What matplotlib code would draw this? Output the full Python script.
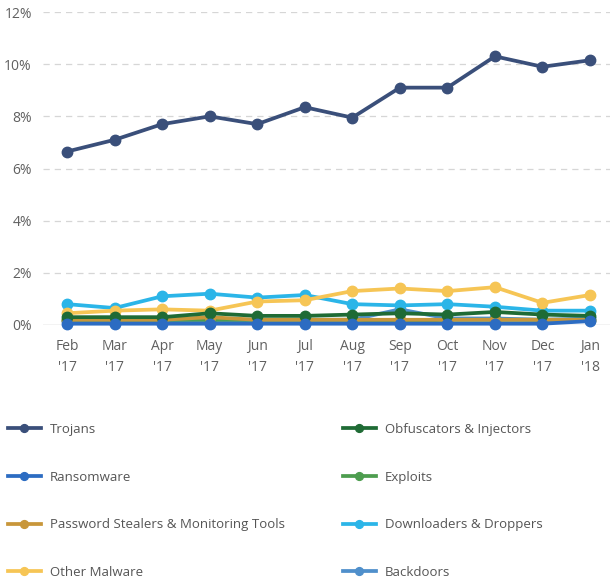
import numpy as np
import matplotlib.pyplot as plt

plt.rcParams['font.family'] = ['Open Sans', 'DejaVu Sans']

months = ["Feb\n'17", "Mar\n'17", "Apr\n'17", "May\n'17", "Jun\n'17", "Jul\n'17",
          "Aug\n'17", "Sep\n'17", "Oct\n'17", "Nov\n'17", "Dec\n'17", "Jan\n'18"]

# monthly share of detections, in percent
trojans = [6.65, 7.1, 7.7, 8.0, 7.7, 8.35, 7.95, 9.1, 9.1, 10.3, 9.9, 10.15]
ransomware = [0.05, 0.05, 0.05, 0.05, 0.05, 0.05, 0.05, 0.05, 0.05, 0.05, 0.05, 0.15]
password_stealers = [0.2, 0.2, 0.2, 0.3, 0.2, 0.2, 0.2, 0.2, 0.2, 0.2, 0.2, 0.2]
other_malware = [0.45, 0.55, 0.6, 0.55, 0.9, 0.95, 1.3, 1.4, 1.3, 1.45, 0.85, 1.15]
obfuscators = [0.3, 0.3, 0.3, 0.45, 0.35, 0.35, 0.4, 0.45, 0.4, 0.5, 0.4, 0.35]
exploits = [0.2, 0.2, 0.2, 0.2, 0.2, 0.2, 0.2, 0.15, 0.2, 0.2, 0.2, 0.2]
downloaders = [0.8, 0.65, 1.1, 1.2, 1.05, 1.15, 0.8, 0.75, 0.8, 0.7, 0.55, 0.55]
backdoors = [0.15, 0.15, 0.15, 0.15, 0.2, 0.2, 0.2, 0.6, 0.25, 0.25, 0.2, 0.25]

left_names = ["Trojans", "Ransomware", "Password Stealers & Monitoring Tools", "Other Malware"]
right_names = ["Obfuscators & Injectors", "Exploits", "Downloaders & Droppers", "Backdoors"]

series = {
    "Trojans": (trojans, "#3a4f7a"),
    "Ransomware": (ransomware, "#2c6cc2"),
    "Password Stealers & Monitoring Tools": (password_stealers, "#c8963a"),
    "Other Malware": (other_malware, "#f6c555"),
    "Obfuscators & Injectors": (obfuscators, "#1f6b35"),
    "Exploits": (exploits, "#4d9d4f"),
    "Downloaders & Droppers": (downloaders, "#2bb5e8"),
    "Backdoors": (backdoors, "#4f8fcb"),
}
# drawing order, bottom to top
draw_order = ["Backdoors", "Exploits", "Password Stealers & Monitoring Tools", "Downloaders & Droppers",
              "Other Malware", "Obfuscators & Injectors", "Ransomware", "Trojans"]

fig = plt.figure(figsize=(6.1, 5.85), dpi=100)
ax = fig.add_axes([43 / 610, 1 - 325 / 585, 1 - 43 / 610, (325 - 12) / 585])

x = np.arange(len(months))
lines = {}
for z, name in enumerate(draw_order):
    vals, col = series[name]
    ln, = ax.plot(x, vals, color=col, lw=2.7, marker='o', ms=7.5, label=name,
                  zorder=3 + z, clip_on=False, solid_joinstyle='round')
    lines[name] = ln

ax.set_xlim(-0.505, 11.42)
ax.set_ylim(0, 12)
ax.set_yticks(np.arange(0, 13, 2))
ax.set_yticklabels([f"{v}%" for v in range(0, 13, 2)])
ax.set_xticks(x)
ax.set_xticklabels(months, linespacing=1.55)
ax.tick_params(length=0, labelsize=10, labelcolor='#606060')
ax.tick_params(axis='y', pad=8)
ax.tick_params(axis='x', pad=10)

for v in range(2, 13, 2):
    ax.axhline(v, color='#d6d6d6', lw=0.9, ls=(0, (5, 4)), zorder=1)
ax.axhline(0, color='#c4c4c4', lw=1.0, zorder=1)
for s in ax.spines.values():
    s.set_visible(False)
ax.patch.set_alpha(0)

leg_kw = dict(frameon=False, loc='upper left', borderpad=0, borderaxespad=0,
              handlelength=2.5, handletextpad=0.7, labelspacing=2.62,
              fontsize=9.5, labelcolor='#555555', markerscale=0.75)
fig.legend([lines[n] for n in left_names], left_names,
           bbox_to_anchor=(8 / 610, 1 - 423 / 585), **leg_kw)
fig.legend([lines[n] for n in right_names], right_names,
           bbox_to_anchor=(343 / 610, 1 - 423 / 585), **leg_kw)

fig.savefig("out.png", dpi=100, facecolor='white')
